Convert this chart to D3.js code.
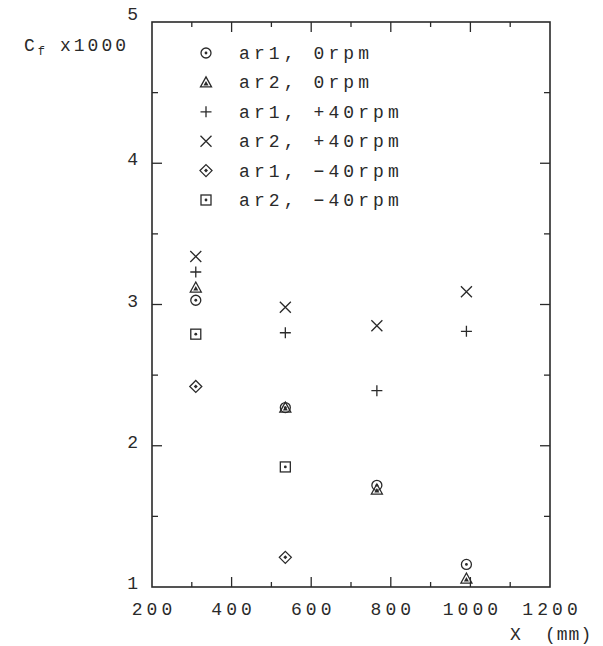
<!DOCTYPE html>
<html>
<head>
<meta charset="utf-8">
<script src="https://cdn.jsdelivr.net/npm/d3@7"></script>
<style>
  body { margin: 0; background: #fff; }
  svg { display: block; }
</style>
</head>
<body>
<div id="chart"></div>
<script>
// data
const xValues = [310, 535, 765, 990];
const ar1Zero = [3.03, 2.27, 1.72, 1.16];
const ar2Zero = [3.12, 2.27, 1.69, 1.06];
const ar1Plus40 = [3.23, 2.80, 2.39, 2.81];
const ar2Plus40 = [3.34, 2.98, 2.85, 3.09];
const ar1Minus40 = [2.42, 1.21];
const ar2Minus40 = [2.79, 1.85];
const seriesNames = ["ar1, 0rpm", "ar2, 0rpm", "ar1, +40rpm", "ar2, +40rpm", "ar1, \u221240rpm", "ar2, \u221240rpm"];
const xTicks = [200, 400, 600, 800, 1000, 1200];
const yTicks = [1, 2, 3, 4, 5];

const width = 603;
const height = 646;
const margin = { top: 22, right: 53, bottom: 59, left: 152 };
const ink = "#2a2a2a";
const font = "'Liberation Mono', 'DejaVu Sans Mono', monospace";
const spacing = 4.1;

const svg = d3
  .select("#chart")
  .append("svg")
  .attr("width", width)
  .attr("height", height)
  .style("font-family", font)
  .style("font-size", "18px");

const xScale = d3.scaleLinear().domain([200, 1200]).range([margin.left, width - margin.right]);
const yScale = d3.scaleLinear().domain([1, 5]).range([height - margin.bottom, margin.top]);

// marker drawers, each gets a group already translated to the point
const markers = [
  function (g) {
    g.append("circle").attr("r", 5).attr("fill", "none").attr("stroke", ink).attr("stroke-width", 1.3);
    g.append("circle").attr("r", 1.4).attr("fill", ink);
  },
  function (g) {
    g.append("path").attr("d", "M0,-5.5L5.5,4.5L-5.5,4.5Z").attr("fill", "none").attr("stroke", ink).attr("stroke-width", 1.3);
    g.append("path").attr("d", "M0,-1.5L2.5,3L-2.5,3Z").attr("fill", ink);
  },
  function (g) {
    g.append("path").attr("d", "M-5.5,0H5.5M0,-5.5V5.5").attr("stroke", ink).attr("stroke-width", 1.3);
  },
  function (g) {
    g.append("path").attr("d", "M-5.5,-5.5L5.5,5.5M-5.5,5.5L5.5,-5.5").attr("stroke", ink).attr("stroke-width", 1.3);
  },
  function (g) {
    g.append("path").attr("d", "M0,-6L6,0L0,6L-6,0Z").attr("fill", "none").attr("stroke", ink).attr("stroke-width", 1.3);
    g.append("path").attr("d", "M0,-2L2,0L0,2L-2,0Z").attr("fill", ink);
  },
  function (g) {
    g.append("rect").attr("x", -5).attr("y", -5).attr("width", 10).attr("height", 10)
      .attr("fill", "none").attr("stroke", ink).attr("stroke-width", 1.3);
    g.append("circle").attr("r", 1.4).attr("fill", ink);
  },
];

const allSeries = [ar1Zero, ar2Zero, ar1Plus40, ar2Plus40, ar1Minus40, ar2Minus40];

// frame
const plot = svg.append("g");
plot
  .append("rect")
  .attr("x", margin.left)
  .attr("y", margin.top)
  .attr("width", width - margin.left - margin.right)
  .attr("height", height - margin.top - margin.bottom)
  .attr("fill", "none")
  .attr("stroke", ink)
  .attr("stroke-width", 1.6);

// ticks, pointing inward on all four sides
const xMinor = d3.range(300, 1200, 200);
const xMajor = [400, 600, 800, 1000];
const yMinor = [1.5, 2.5, 3.5, 4.5];
const yMajor = [2, 3, 4];
const y0 = yScale(1), y1 = yScale(5), x0 = xScale(200), x1 = xScale(1200);

function hTicks(vals, len) {
  vals.forEach((v) => {
    plot.append("line").attr("x1", xScale(v)).attr("x2", xScale(v)).attr("y1", y0).attr("y2", y0 - len)
      .attr("stroke", ink).attr("stroke-width", 1.3);
    plot.append("line").attr("x1", xScale(v)).attr("x2", xScale(v)).attr("y1", y1).attr("y2", y1 + len)
      .attr("stroke", ink).attr("stroke-width", 1.3);
  });
}
function vTicks(vals, len) {
  vals.forEach((v) => {
    plot.append("line").attr("x1", x0).attr("x2", x0 + len).attr("y1", yScale(v)).attr("y2", yScale(v))
      .attr("stroke", ink).attr("stroke-width", 1.3);
    plot.append("line").attr("x1", x1).attr("x2", x1 - len).attr("y1", yScale(v)).attr("y2", yScale(v))
      .attr("stroke", ink).attr("stroke-width", 1.3);
  });
}
hTicks(xMajor, 10);
hTicks(xMinor, 5);
vTicks(yMajor, 10);
vTicks(yMinor, 6);

// tick labels
svg
  .selectAll(".xlab")
  .data(xTicks)
  .enter()
  .append("text")
  .attr("x", (d) => xScale(d) + spacing / 2)
  .attr("y", height - margin.bottom + 28)
  .attr("text-anchor", "middle")
  .style("letter-spacing", spacing + "px")
  .attr("fill", ink)
  .text((d) => d);

svg
  .selectAll(".ylab")
  .data(yTicks)
  .enter()
  .append("text")
  .attr("x", margin.left - 14)
  .attr("y", (d) => yScale(d) + (d === 5 ? -2 : 2))
  .attr("text-anchor", "end")
  .attr("fill", ink)
  .text((d) => d);

// axis titles
const yTitle = svg.append("text").attr("x", 24).attr("y", 51).attr("fill", ink).style("letter-spacing", "3px");
yTitle.append("tspan").text("C");
yTitle.append("tspan").attr("dy", 4).style("font-size", "12px").text("f");
yTitle.append("tspan").attr("dy", -4).attr("x", 60).text("x1000");

const xTitle = svg.append("text").attr("y", 640).attr("fill", ink).style("letter-spacing", "1px");
xTitle.append("tspan").attr("x", 510).text("X");
xTitle.append("tspan").attr("x", 545).text("(mm)");

// points
allSeries.forEach((vals, i) => {
  vals.forEach((v, j) => {
    const g = svg.append("g").attr("transform", `translate(${xScale(xValues[j])},${yScale(v)})`);
    markers[i](g);
  });
});

// legend
const legend = svg.append("g").attr("transform", "translate(206, 53)");
seriesNames.forEach((name, i) => {
  const row = legend.append("g").attr("transform", `translate(0, ${i * 29.4})`);
  markers[i](row);
  row
    .append("text")
    .attr("x", 33)
    .attr("y", 6)
    .attr("fill", ink)
    .style("letter-spacing", spacing + "px")
    .text(name);
});
</script>
</body>
</html>
